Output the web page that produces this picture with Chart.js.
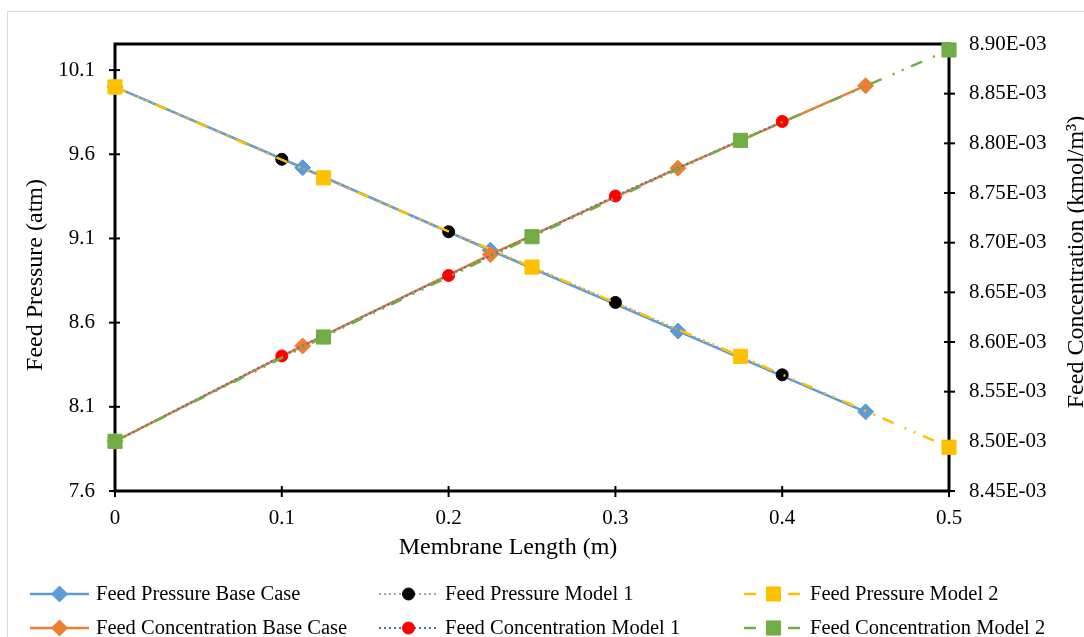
<!DOCTYPE html>
<html>
<head>
<meta charset="utf-8">
<script src="https://cdn.jsdelivr.net/npm/chart.js@4/dist/chart.umd.min.js"></script>
<style>
  body { margin: 0; background: #fff; }
  #wrap { width: 1084px; height: 637px; }
</style>
</head>
<body>
<div id="wrap"><canvas id="feedChart" width="1084" height="637"></canvas></div>
<script>
// membrane length positions (m)
const xBase = [0, 0.1125, 0.225, 0.3375, 0.45];
const xModel1 = [0, 0.1, 0.2, 0.3, 0.4];
const xModel2 = [0, 0.125, 0.25, 0.375, 0.5];

// feed pressure (atm)
const pressureBase = [10.00, 9.52, 9.03, 8.55, 8.07];
const pressureModel1 = [10.00, 9.57, 9.14, 8.72, 8.29];
const pressureModel2 = [10.00, 9.46, 8.93, 8.40, 7.86];

// feed concentration (kmol/m3)
const concBase = [8.500e-3, 8.596e-3, 8.688e-3, 8.775e-3, 8.858e-3];
const concModel1 = [8.500e-3, 8.586e-3, 8.667e-3, 8.747e-3, 8.822e-3];
const concModel2 = [8.500e-3, 8.605e-3, 8.706e-3, 8.803e-3, 8.894e-3];

// tick labels
const xTicks = [0, 0.1, 0.2, 0.3, 0.4, 0.5];
const pressureTicks = [7.6, 8.1, 8.6, 9.1, 9.6, 10.1];
const concTicks = [8.45e-3, 8.50e-3, 8.55e-3, 8.60e-3, 8.65e-3, 8.70e-3, 8.75e-3, 8.80e-3, 8.85e-3, 8.90e-3];

const FONT = 'Liberation Serif';
const dashDotDot = [12, 12, 2, 8, 2, 8];

function pairs(xs, ys) {
    return xs.map((x, i) => ({x: x, y: ys[i]}));
}

function series(label, xs, ys, axis, color, pointColor, style, radius, dash, width, idx) {
    return {
        label: label,
        data: pairs(xs, ys),
        yAxisID: axis,
        borderColor: color,
        backgroundColor: pointColor,
        borderWidth: width,
        borderDash: dash,
        pointStyle: style,
        pointRadius: radius,
        pointHoverRadius: radius,
        pointBackgroundColor: pointColor,
        pointBorderColor: pointColor,
        pointBorderWidth: 1,
        tension: 0,
        clip: false,
        order: 10 - idx
    };
}

const datasets = [
    series('Feed Pressure Base Case', xBase, pressureBase, 'yP', '#5B9BD5', '#5B9BD5', 'rectRot', 8, [], 2.5, 0),
    series('Feed Pressure Model 1', xModel1, pressureModel1, 'yP', '#A5A5A5', '#000000', 'circle', 6, [2, 3], 2, 1),
    series('Feed Pressure Model 2', xModel2, pressureModel2, 'yP', '#FFC000', '#FFC000', 'rect', 10, dashDotDot, 2.5, 2),
    series('Feed Concentration Base Case', xBase, concBase, 'yC', '#ED7D31', '#ED7D31', 'rectRot', 8, [], 2.5, 3),
    series('Feed Concentration Model 1', xModel1, concModel1, 'yC', '#4472C4', '#FF0000', 'circle', 6, [2, 3], 2, 4),
    series('Feed Concentration Model 2', xModel2, concModel2, 'yC', '#70AD47', '#70AD47', 'rect', 10, dashDotDot, 2.5, 5)
];

function drawTitle(ctx, text, x, y, rotate) {
    ctx.save();
    ctx.fillStyle = '#000';
    ctx.font = '24px "' + FONT + '"';
    ctx.textAlign = 'center';
    ctx.textBaseline = 'middle';
    ctx.translate(x, y);
    if (rotate) ctx.rotate(-Math.PI / 2);
    ctx.fillText(text, 0, 0);
    ctx.restore();
}

// frame, crossing tick marks, axis titles, outer border, legend
const decorations = {
    id: 'decorations',
    beforeDraw(chart) {
        const ctx = chart.ctx;
        ctx.save();
        ctx.strokeStyle = '#D9D9D9';
        ctx.lineWidth = 1;
        ctx.strokeRect(7.5, 11.5, 1200, 800);
        ctx.restore();
    },
    beforeDatasetsDraw(chart) {
        const ctx = chart.ctx;
        const a = chart.chartArea;
        ctx.save();
        ctx.strokeStyle = '#000';
        ctx.lineWidth = 2;
        const sx = chart.scales.x, sp = chart.scales.yP, sc = chart.scales.yC;
        sx.ticks.forEach(t => {
            const px = sx.getPixelForValue(t.value);
            ctx.beginPath(); ctx.moveTo(px, a.bottom - 5); ctx.lineTo(px, a.bottom + 6); ctx.stroke();
        });
        sp.ticks.forEach(t => {
            const py = sp.getPixelForValue(t.value);
            ctx.beginPath(); ctx.moveTo(a.left - 6, py); ctx.lineTo(a.left + 5, py); ctx.stroke();
        });
        sc.ticks.forEach(t => {
            const py = sc.getPixelForValue(t.value);
            ctx.beginPath(); ctx.moveTo(a.right - 5, py); ctx.lineTo(a.right + 6, py); ctx.stroke();
        });
        ctx.lineWidth = 3;
        ctx.strokeRect(a.left, a.top, a.right - a.left, a.bottom - a.top);
        ctx.restore();
    },
    afterDraw(chart) {
        const ctx = chart.ctx;
        drawTitle(ctx, 'Membrane Length (m)', 508, 548, false);
        drawTitle(ctx, 'Feed Pressure (atm)', 36, 275, true);
        drawTitle(ctx, 'Feed Concentration (kmol/m\u00B3)', 1077, 262, true);

        // legend: 3 columns, 2 rows
        const colX = [30, 379, 744];
        const rowY = [594, 628];
        chart.data.datasets.forEach((ds, i) => {
            const x0 = colX[i % 3];
            const y = rowY[Math.floor(i / 3)];
            ctx.save();
            ctx.strokeStyle = ds.borderColor;
            ctx.lineWidth = ds.borderWidth;
            ctx.setLineDash(ds.borderDash);
            ctx.beginPath();
            ctx.moveTo(x0, y);
            ctx.lineTo(x0 + 59, y);
            ctx.stroke();
            ctx.setLineDash([]);
            ctx.fillStyle = ds.pointBackgroundColor;
            ctx.strokeStyle = ds.pointBorderColor;
            ctx.lineWidth = 1;
            Chart.helpers.drawPoint(ctx, {
                pointStyle: ds.pointStyle,
                radius: ds.pointRadius,
                rotation: 0,
                borderWidth: 1
            }, x0 + 29.5, y);
            ctx.fillStyle = '#000';
            ctx.font = '20.5px "' + FONT + '"';
            ctx.textAlign = 'left';
            ctx.textBaseline = 'middle';
            ctx.fillText(ds.label, x0 + 66, y + 1);
            ctx.restore();
        });
    }
};

const tickFont = {family: FONT, size: 21};

new Chart(document.getElementById('feedChart'), {
    type: 'scatter',
    data: {datasets: datasets},
    options: {
        responsive: false,
        animation: false,
        showLine: true,
        layout: {padding: {top: 44, left: 0, right: 0, bottom: 76}},
        plugins: {
            legend: {display: false},
            tooltip: {enabled: false}
        },
        scales: {
            x: {
                type: 'linear',
                min: 0,
                max: 0.5,
                afterFit: s => { s.height = 70; },
                afterBuildTicks: s => { s.ticks = xTicks.map(v => ({value: v})); },
                grid: {display: false},
                border: {display: false},
                ticks: {color: '#000', font: tickFont, padding: 7, maxRotation: 0, callback: v => String(v)}
            },
            yP: {
                type: 'linear',
                position: 'left',
                min: 7.6,
                max: 10.255,
                afterFit: s => { s.width = 115; },
                afterBuildTicks: s => { s.ticks = pressureTicks.map(v => ({value: v})); },
                grid: {display: false},
                border: {display: false},
                ticks: {color: '#000', font: tickFont, padding: 12, callback: v => v.toFixed(1)}
            },
            yC: {
                type: 'linear',
                position: 'right',
                min: 8.45e-3,
                max: 8.90e-3,
                afterFit: s => { s.width = 135; },
                afterBuildTicks: s => { s.ticks = concTicks.map(v => ({value: v})); },
                grid: {display: false},
                border: {display: false},
                ticks: {color: '#000', font: tickFont, padding: 12, callback: v => (v * 1000).toFixed(2) + 'E-03'}
            }
        }
    },
    plugins: [decorations]
});
</script>
</body>
</html>
